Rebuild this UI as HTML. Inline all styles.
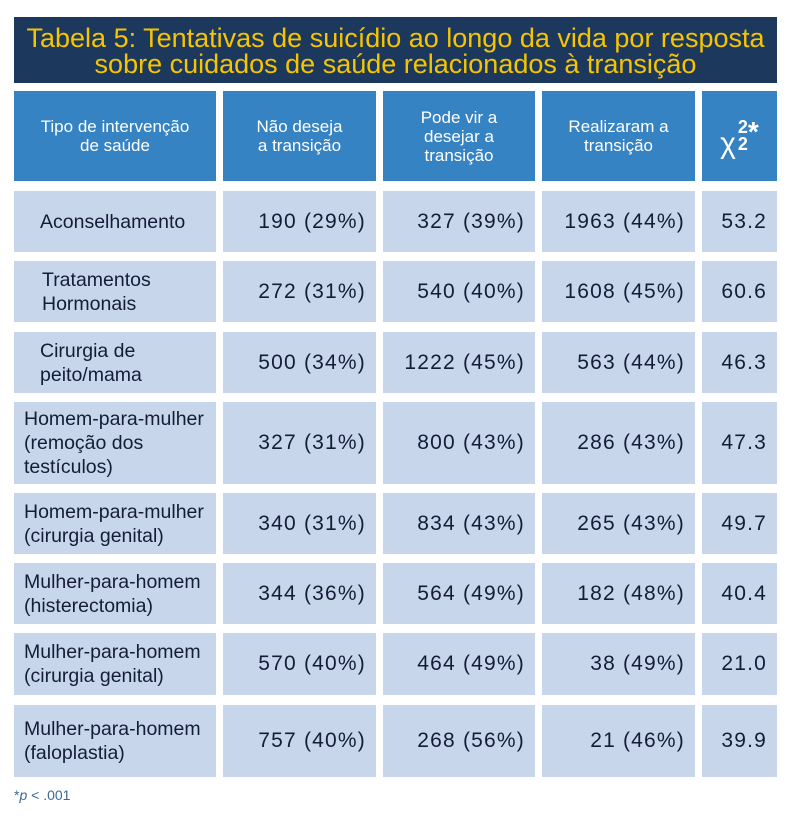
<!DOCTYPE html>
<html><head><meta charset="utf-8"><style>
body{margin:0;width:790px;height:829px;background:#fff;position:relative;font-family:"Liberation Sans",sans-serif;overflow:hidden}
.t{position:absolute;left:14px;top:17px;width:763px;height:66px;background:#1c385c;color:#f6c500;font-size:27px;line-height:26px;text-align:center;padding-top:8px;box-sizing:border-box;white-space:nowrap}
.c{position:absolute;box-sizing:border-box;display:flex;align-items:center}
.h{background:#3683c3;color:#fff;font-size:17px;line-height:19px;justify-content:center;text-align:center}
.b{background:#c8d6ec;color:#141c38}
.n{font-size:21px;justify-content:flex-end;padding-right:10px;letter-spacing:1.2px}
.l{font-size:19.5px;line-height:24px}
.f{position:absolute;left:14px;top:787px;font-size:14px;color:#3a6a9a}
</style></head><body>
<div class="t">Tabela 5: Tentativas de suicídio ao longo da vida por resposta<br>sobre cuidados de saúde relacionados à transição</div>
<div id="tbl"></div>
<div class="f">*<i>p</i> &lt; .001</div>
<script>
const headers=["Tipo de intervenção<br>de saúde","Não deseja<br>a transição","Pode vir a<br>desejar a<br>transição","Realizaram a<br>transição","<span style='font-size:30px;margin-top:14px'>χ</span><span style='display:inline-flex;flex-direction:column;font-size:18px;line-height:17px;font-weight:bold;margin-left:2px'><span>2</span><span>2</span></span><span style='font-size:28px;font-weight:bold;margin-top:-10px'>*</span>"];
const rowLabels=["Aconselhamento","Tratamentos<br>Hormonais","Cirurgia de<br>peito/mama","Homem-para-mulher<br>(remoção dos<br>testículos)","Homem-para-mulher<br>(cirurgia genital)","Mulher-para-homem<br>(histerectomia)","Mulher-para-homem<br>(cirurgia genital)","Mulher-para-homem<br>(faloplastia)"];
const notWant=["190 (29%)","272 (31%)","500 (34%)","327 (31%)","340 (31%)","344 (36%)","570 (40%)","757 (40%)"];
const mayWant=["327 (39%)","540 (40%)","1222 (45%)","800 (43%)","834 (43%)","564 (49%)","464 (49%)","268 (56%)"];
const done=["1963 (44%)","1608 (45%)","563 (44%)","286 (43%)","265 (43%)","182 (48%)","38 (49%)","21 (46%)"];
const chi=["53.2","60.6","46.3","47.3","49.7","40.4","21.0","39.9"];
const colX=[14,223,383,542,702],colW=[202,153,152,153,75];
const rowY=[191,261,332,402,493,563,633,705],rowH=[61,61,61,82,61,61,62,72];
const lpad=[26,28,26,10,10,10,10,10];
const tbl=document.getElementById('tbl');
function cell(cls,x,y,w,h,html,name){const d=document.createElement('div');d.className='c '+cls;d.style.cssText=`left:${x}px;top:${y}px;width:${w}px;height:${h}px`;d.innerHTML=html;


tbl.appendChild(d);return d;}
headers.forEach((h,i)=>cell('h',colX[i],91,colW[i],90,h,'header-cell'));
rowLabels.forEach((lab,r)=>{
 const d=cell('b l',colX[0],rowY[r],colW[0],rowH[r],lab,'row-label');d.style.paddingLeft=lpad[r]+'px';
 [notWant,mayWant,done,chi].forEach((arr,k)=>cell('b n',colX[k+1],rowY[r],colW[k+1],rowH[r],arr[r],'value-cell'));
});
</script>
</body></html>
